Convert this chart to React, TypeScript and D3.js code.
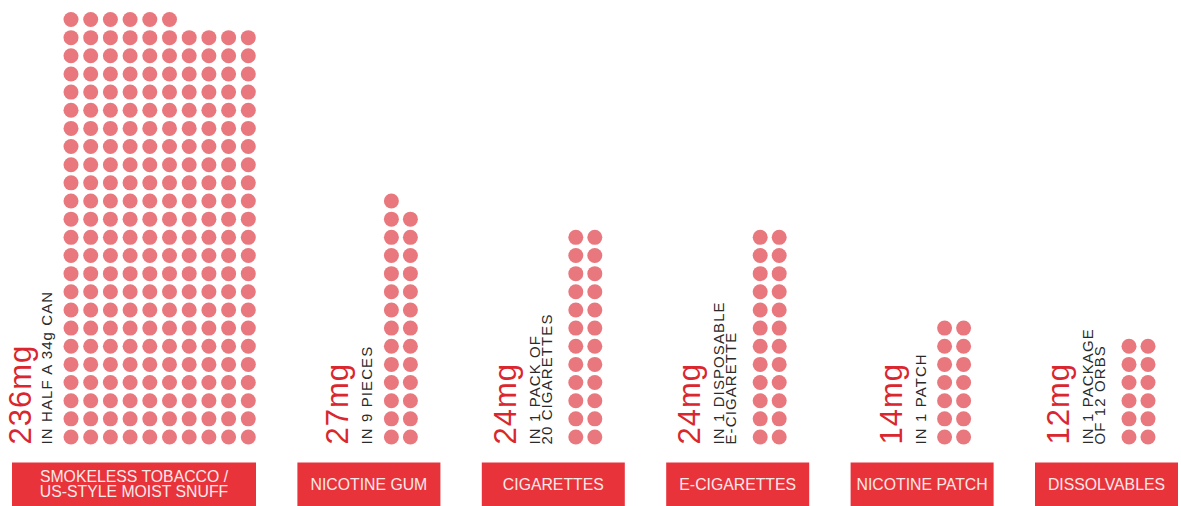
import React from "react";
import * as d3 from "d3";

const categories = [
  "SMOKELESS TOBACCO /\nUS-STYLE MOIST SNUFF",
  "NICOTINE GUM",
  "CIGARETTES",
  "E-CIGARETTES",
  "NICOTINE PATCH",
  "DISSOLVABLES",
];
const nicotineMg = [236, 27, 24, 24, 14, 12];
const dotsPerRow = [10, 2, 2, 2, 2, 2];
const servingLabels = [
  ["IN HALF A 34g CAN"],
  ["IN 9 PIECES"],
  ["IN 1 PACK OF", "20 CIGARETTES"],
  ["IN 1 DISPOSABLE", "E-CIGARETTE"],
  ["IN 1 PATCH"],
  ["IN 1 PACKAGE", "OF 12 ORBS"],
];

const W = 1181;
const H = 506;
const DOT = "#e9787e";
const RED = "#e8333b";
const LABEL_RED = "#d9262f";

export default function App() {
  const maxRows = Math.ceil(nicotineMg[0] / dotsPerRow[0]);
  const yRow = d3.scaleLinear().domain([0, maxRows - 1]).range([437, 19.5]);
  const boxRight = d3.scaleLinear().domain([0, categories.length - 1]).range([256, 1178]);
  const dotR = 7.5;
  const boxTop = 462.5;

  return (
    <svg width={W} height={H} style={{ position: "absolute", left: 0, top: 0 }}>
      <rect width={W} height={H} fill="#fff" />
      {categories.map((cat, i) => {
        const cols = dotsPerRow[i];
        const big = cols > 2;
        const bw = big ? 244 : 143;
        const right = boxRight(i);
        const left = right - bw;
        const dotLeft = left + (big ? 59 : 94);
        const xCol = d3.scaleLinear().domain([0, cols - 1]).range([dotLeft, dotLeft + (cols - 1) * (big ? 19.7 : 19)]);
        const dots = d3.range(nicotineMg[i]).map((k) => ({ c: k % cols, r: Math.floor(k / cols) }));
        const lines = servingLabels[i];
        const n = lines.length;
        const textY = 444.5;
        const subBase = n > 1 ? dotLeft - 24 : dotLeft - 19;
        const labelBase = subBase - (n - 1) * 12 - (big ? 21 : 24);
        const boxLines = cat.split("\n");
        const boxMid = (boxTop + H) / 2;
        return (
          <g key={cat}>
            {dots.map((d, k) => (
              <circle key={k} cx={xCol(d.c)} cy={yRow(d.r)} r={dotR} fill={DOT} />
            ))}
            <text
              transform={`translate(${labelBase},${textY}) rotate(-90)`}
              fontFamily="'Liberation Sans', Arial, sans-serif"
              fontSize={31}
              letterSpacing={1}
              fill={LABEL_RED}
            >
              {`${nicotineMg[i]}mg`}
            </text>
            {lines.map((ln, j) => (
              <text
                key={j}
                transform={`translate(${subBase - (n - 1 - j) * 12},${textY}) rotate(-90)`}
                fontFamily="'Liberation Sans', Arial, sans-serif"
                fontSize={15}
                letterSpacing={1.1}
                fill="#2a2a2a"
              >
                {ln}
              </text>
            ))}
            <rect x={left} y={boxTop} width={bw} height={H - boxTop + 1} fill={RED} />
            {boxLines.map((ln, j) => (
              <text
                key={j}
                x={left + bw / 2}
                y={boxMid + (j - (boxLines.length - 1) / 2) * 15}
                dy="0.36em"
                textAnchor="middle"
                fontFamily="'Liberation Sans', Arial, sans-serif"
                fontSize={15.8}
                fill="#fbe9e9"
              >
                {ln}
              </text>
            ))}
          </g>
        );
      })}
    </svg>
  );
}
